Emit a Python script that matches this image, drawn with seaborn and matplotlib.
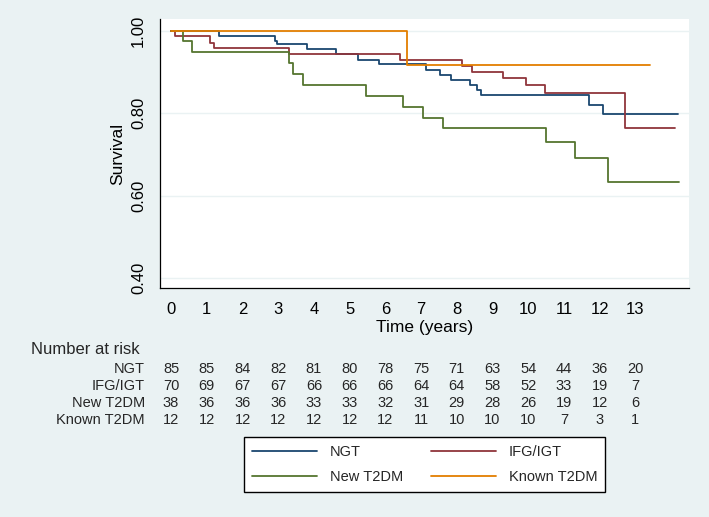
import numpy as np
import pandas as pd
import matplotlib
matplotlib.use("Agg")
import matplotlib.pyplot as plt
import matplotlib.transforms as mtransforms
import seaborn as sns

sns.set_theme(style="white")
plt.rcParams['font.family'] = ['Liberation Sans', 'DejaVu Sans']

# ------------------------------------------------------------------
# Kaplan-Meier step curves
# ------------------------------------------------------------------
groups = ["NGT", "IFG/IGT", "New T2DM", "Known T2DM"]

ngt_time = [0, 1.35, 2.91, 2.96, 3.80, 4.62, 5.23, 5.81, 7.15, 7.54, 7.83,
            8.38, 8.56, 8.67, 11.69, 12.08, 14.19]
ngt_surv = [1.0, 0.988, 0.975, 0.967, 0.955, 0.943, 0.929, 0.919, 0.905,
            0.893, 0.880, 0.867, 0.855, 0.843, 0.819, 0.797, 0.797]

ifg_time = [0, 0.10, 1.09, 1.21, 3.30, 6.42, 8.15, 8.43, 9.28, 9.93,
            10.47, 12.71, 14.11]
ifg_surv = [1.0, 0.986, 0.971, 0.957, 0.943, 0.929, 0.915, 0.900, 0.884,
            0.867, 0.848, 0.764, 0.764]

new_time = [0, 0.33, 0.58, 3.30, 3.40, 3.69, 5.45, 6.49, 7.06, 7.60,
            10.50, 11.30, 12.24, 14.23]
new_surv = [1.0, 0.974, 0.947, 0.921, 0.895, 0.868, 0.842, 0.815, 0.789,
            0.764, 0.730, 0.690, 0.633, 0.633]

known_time = [0, 6.60, 13.42]
known_surv = [1.0, 0.917, 0.917]

# Number at risk table
risk_years = list(range(14))
risk_ngt = [85, 85, 84, 82, 81, 80, 78, 75, 71, 63, 54, 44, 36, 20]
risk_ifg = [70, 69, 67, 67, 66, 66, 66, 64, 64, 58, 52, 33, 19, 7]
risk_new = [38, 36, 36, 36, 33, 33, 32, 31, 29, 28, 26, 19, 12, 6]
risk_known = [12, 12, 12, 12, 12, 12, 12, 11, 10, 10, 10, 7, 3, 1]

colors = {"NGT": "#1A476F", "IFG/IGT": "#90353B",
          "New T2DM": "#55752F", "Known T2DM": "#E37E00"}

curves = pd.concat([
    pd.DataFrame({"time": ngt_time, "surv": ngt_surv, "group": "NGT"}),
    pd.DataFrame({"time": ifg_time, "surv": ifg_surv, "group": "IFG/IGT"}),
    pd.DataFrame({"time": new_time, "surv": new_surv, "group": "New T2DM"}),
    pd.DataFrame({"time": known_time, "surv": known_surv, "group": "Known T2DM"}),
], ignore_index=True)

# ------------------------------------------------------------------
# Figure
# ------------------------------------------------------------------
W, H = 709, 517
bg = "#EAF2F3"
fig = plt.figure(figsize=(W / 100, H / 100), dpi=100, facecolor=bg)
ax = fig.add_axes([160 / W, 1 - 288 / H, (689 - 160) / W, (288 - 19) / H])
ax.set_facecolor("white")

sns.lineplot(data=curves, x="time", y="surv", hue="group", hue_order=groups,
             palette=colors, estimator=None, sort=False,
             drawstyle="steps-post", linewidth=1.3, ax=ax)

ax.set_xlim(-0.31, 14.5)
ax.set_ylim(0.376, 1.028)
ax.set_xticks(range(14))
ax.set_yticks([0.4, 0.6, 0.8, 1.0])
ax.set_yticklabels(["0.40", "0.60", "0.80", "1.00"], rotation=90, va="center")
ax.grid(axis="y", color=bg, linewidth=1.0)
ax.grid(axis="x", visible=False)
ax.tick_params(axis="both", direction="out", length=6, width=0.9,
               color="black", labelsize=12, labelcolor="black")
ax.tick_params(axis="y", pad=4)
ax.tick_params(axis="x", pad=4)
for side in ["top", "right"]:
    ax.spines[side].set_visible(False)
for side in ["left", "bottom"]:
    ax.spines[side].set_color("black")
    ax.spines[side].set_linewidth(0.9)

ax.set_xlabel("Time (years)", fontsize=12.5, color="black")
ax.set_ylabel("Survival", fontsize=12.5, color="black")
ax.xaxis.set_label_coords(0.5, (288 - 327.5) / 269)
ax.xaxis.label.set_va("center")
ax.yaxis.set_label_coords((118 - 160) / 529, 0.5)
ax.yaxis.label.set_va("center")
ax.yaxis.label.set_ha("center")

# Number at risk table
trans = mtransforms.blended_transform_factory(ax.transData, fig.transFigure)
fig.text(31 / W, 1 - 349 / H, "Number at risk", fontsize=12,
         ha="left", va="center")
rows = [("NGT", risk_ngt, 369), ("IFG/IGT", risk_ifg, 386),
        ("New T2DM", risk_new, 403), ("Known T2DM", risk_known, 420)]
for name, counts, ypx in rows:
    fig.text(145 / W, 1 - ypx / H, name, fontsize=10.5, ha="right", va="center")
    for yr, n in zip(risk_years, counts):
        ax.text(yr, 1 - ypx / H, str(n), transform=trans, fontsize=10.5,
                ha="center", va="center", clip_on=False)

# Legend (row-wise: NGT, IFG/IGT / New T2DM, Known T2DM)
handles, labels = ax.get_legend_handles_labels()
ax.get_legend().remove()
lookup = dict(zip(labels, handles))
order = ["NGT", "New T2DM", "IFG/IGT", "Known T2DM"]
leg = fig.legend([lookup[k] for k in order], order, ncol=2, loc="center",
                 bbox_to_anchor=((245.7 + 603.3) / 2 / W, 1 - 464.5 / H),
                 fontsize=10.5, frameon=True, fancybox=False, framealpha=1,
                 edgecolor="black", facecolor="white", handlelength=4.5,
                 handletextpad=0.85, columnspacing=1.9, labelspacing=0.8,
                 borderpad=0.55)
leg.get_frame().set_linewidth(1.0)

fig.savefig("out.png", dpi=100, facecolor=bg)
